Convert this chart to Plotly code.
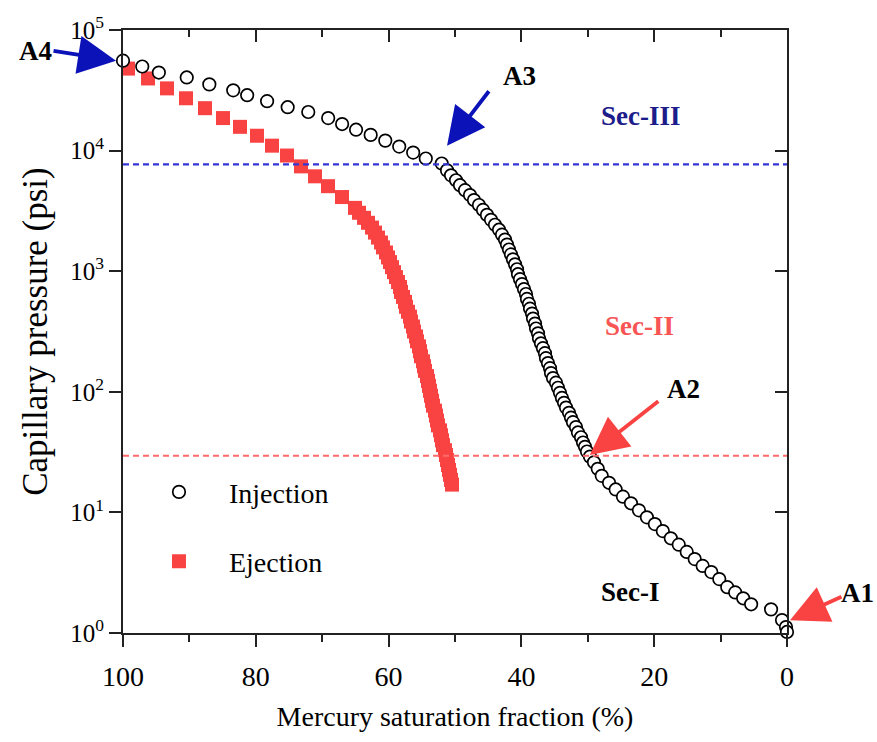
import plotly.graph_objects as go

# ---- Data ----
inj_sat = [100.0, 97.1, 94.6, 90.4, 87.0, 83.4, 81.3, 78.3, 75.2, 72.1, 69.1, 67.0, 64.9,
           62.7, 60.5, 58.4, 56.3, 54.4, 52.0,
           51.20, 50.60, 49.85, 49.25, 48.49, 47.74, 47.14, 46.39, 45.78, 45.18, 44.58,
           43.98, 43.37, 42.92, 42.47, 42.17, 41.87, 41.57, 41.27, 40.96, 40.66, 40.51,
           40.21, 39.91, 39.61, 39.31, 39.16, 38.86, 38.70, 38.40, 38.25, 37.95, 37.80,
           37.50, 37.35, 37.05, 36.75, 36.45, 36.30, 36.00, 35.69, 35.54, 35.24, 34.79,
           34.49, 34.19, 33.89, 33.58, 33.28, 32.83, 32.53, 32.23, 31.78, 31.48, 31.02,
           30.72, 30.42, 30.12, 29.67, 29.07, 28.5,
           27.9, 26.8, 25.8, 24.7, 23.5, 22.3, 21.1, 19.9, 18.7, 17.5, 16.3, 15.1, 13.9,
           12.7, 11.4, 10.2, 9.0, 7.8, 6.6, 5.4, 2.4, 0.75, 0.15, 0.0, 0.0]
inj_pc = [55700, 49800, 44400, 40400, 35400, 31600, 28800, 25700, 22900, 20900, 18600,
          16600, 14900, 13500, 12100, 10800, 9630, 8600, 7820,
          6855, 6237, 5675, 5164, 4699, 4276, 3890, 3540, 3221, 2931, 2667,
          2427, 2208, 2009, 1828, 1663, 1514, 1377, 1253, 1140, 1038, 944,
          859, 782, 711, 647, 589, 537, 489, 445, 405, 368, 335,
          305, 277, 252, 230, 209, 190, 173, 157, 143, 130, 119,
          108, 98, 89, 81, 74, 67, 61, 56, 51, 46, 42,
          38, 35, 32, 29, 26, 23.0,
          20.1, 17.6, 15.5, 13.5, 11.9, 10.4, 9.1, 8.0, 7.0, 6.1, 5.4, 4.7, 4.1,
          3.6, 3.2, 2.8, 2.4, 2.17, 1.94, 1.73, 1.57, 1.28, 1.12, 1.02, 0.93]

ej_sat = [99.25, 96.23, 93.37, 90.51, 87.65, 84.94, 82.38, 79.82, 77.56, 75.30, 73.19,
          71.08, 69.13, 67.02, 65.06, 64.46, 63.70, 63.10, 62.50, 62.05, 61.60, 61.14,
          60.84, 60.39, 60.09, 59.79, 59.49, 59.19, 58.89, 58.58, 58.28, 58.13, 57.83,
          57.53, 57.38, 57.08, 56.78, 56.63, 56.33, 56.17, 55.87, 55.72, 55.42, 55.27,
          55.12, 54.82, 54.67, 54.52, 54.22, 54.07, 53.92, 53.77, 53.61, 53.46, 53.31,
          53.01, 52.86, 52.71, 52.56, 52.26, 52.11, 51.96, 51.81, 51.51, 51.36, 51.20,
          51.05, 50.90, 50.75, 50.60, 50.45]
ej_pc = [47860, 39650, 32810, 27160, 22480, 18610, 15740, 13280, 10990, 9100, 7400,
         6120, 5070, 4120, 3350, 3050, 2770, 2520, 2300, 2090, 1900, 1730,
         1575, 1430, 1300, 1190, 1080, 982, 894, 813, 740, 673, 612,
         557, 507, 461, 420, 382, 348, 316, 288, 262, 238, 217,
         197, 179, 163, 149, 135, 123, 112, 102, 92.7, 84.3, 76.7,
         69.8, 63.5, 57.8, 52.6, 47.9, 43.6, 39.6, 36.1, 32.8, 29.9, 27.2,
         24.7, 22.5, 20.5, 18.6, 17.0]

sec3_threshold = 7680   # blue dashed line (psi)
sec2_threshold = 29.5   # red dashed line (psi)

x_ticks = [100, 80, 60, 40, 20, 0]
y_ticks = [1, 10, 100, 1000, 10000, 100000]
y_ticktext = ["10<sup>0</sup>", "10<sup>1</sup>", "10<sup>2</sup>",
              "10<sup>3</sup>", "10<sup>4</sup>", "10<sup>5</sup>"]

FONT = "Liberation Serif"
RED = "#f94343"
BLUE_ARROW = "#0a12b8"
AXC = "#222222"

fig = go.Figure()

fig.add_trace(go.Scatter(
    x=ej_sat, y=ej_pc, mode="markers", name="Ejection", legendrank=2,
    legendgroup="b",
    marker=dict(symbol="square", size=14, color=RED, line=dict(width=0)),
    cliponaxis=False))
fig.add_trace(go.Scatter(
    x=inj_sat, y=inj_pc, mode="markers", name="Injection", legendrank=1,
    legendgroup="a",
    marker=dict(symbol="circle", size=12.5, color="white",
                line=dict(width=1.7, color="black")),
    cliponaxis=False))

# threshold lines
fig.add_shape(type="line", xref="paper", x0=0, x1=1, yref="y",
              y0=sec3_threshold, y1=sec3_threshold,
              line=dict(color="#3535d6", width=2.2, dash="6px,4px"))
fig.add_shape(type="line", xref="paper", x0=0, x1=1, yref="y",
              y0=sec2_threshold, y1=sec2_threshold,
              line=dict(color="#ff6a6a", width=2.2, dash="6px,4px"))

# text labels
def label(text, x, y, color):
    fig.add_annotation(text=f"<b>{text}</b>", xref="paper", yref="paper", x=x, y=y,
                       showarrow=False, font=dict(family=FONT, size=27, color=color),
                       xanchor="center", yanchor="middle")

label("A4", -0.1325, 0.9656, "black")
label("A3", 0.5964, 0.9230, "black")
label("Sec-III", 0.7801, 0.8574, "#1c1c8a")
label("Sec-II", 0.7786, 0.5098, "#f85555")
label("A2", 0.8434, 0.4049, "black")
label("Sec-I", 0.7636, 0.0672, "black")
label("A1", 1.1069, 0.0656, "black")

# arrows (head in paper coords, tail pixel offset)
def arrow(x, y, ax, ay, color):
    fig.add_annotation(text="", x=x, y=y, xref="paper", yref="paper", ax=ax, ay=ay,
                       showarrow=True, arrowhead=2, arrowsize=2.0, arrowwidth=3.8,
                       arrowcolor=color, standoff=0)

arrow(-0.0105, 0.949, -64, -10, BLUE_ARROW)
arrow(0.488, 0.808, 43, -56, BLUE_ARROW)
arrow(0.703, 0.295, 70, -55, RED)
arrow(1.0045, 0.0213, 53, -24, RED)

axis_common = dict(showline=True, linewidth=2, linecolor=AXC, showgrid=False,
                   zeroline=False, ticklen=12, tickwidth=2, tickcolor=AXC)

fig.update_layout(
    width=877, height=742,
    margin=dict(l=123, r=90, t=23, b=109),
    paper_bgcolor="white", plot_bgcolor="white",
    font=dict(family=FONT, size=28, color="black"),
    xaxis=dict(range=[100, 0], tickvals=x_ticks, ticks="outside",
               minor=dict(dtick=10, ticks="outside", ticklen=7, tickwidth=2,
                          tickcolor=AXC),
               ticklabelstandoff=5,
               title=dict(text="Mercury saturation fraction (%)", standoff=16,
                          font=dict(size=28)),
               tickfont=dict(size=28), **axis_common),
    yaxis=dict(type="log", range=[0, 5], tickvals=y_ticks, ticktext=y_ticktext,
               ticks="outside",
               title=dict(text="Capillary pressure (psi)", standoff=12,
                          font=dict(size=35)),
               tickfont=dict(size=25), **axis_common),
    xaxis2=dict(overlaying="x", side="top", range=[100, 0], tickvals=x_ticks,
                ticks="inside", showticklabels=False,
                minor=dict(dtick=10, ticks="inside", ticklen=7, tickwidth=2,
                           tickcolor=AXC),
                **axis_common),
    yaxis2=dict(overlaying="y", side="right", type="log", range=[0, 5],
                tickvals=y_ticks, ticks="inside", showticklabels=False,
                **axis_common),
    legend=dict(x=0.009, y=0.275, xanchor="left", yanchor="top",
                bgcolor="rgba(0,0,0,0)", font=dict(size=28, family=FONT),
                itemwidth=90, tracegroupgap=30, traceorder="grouped"),
    showlegend=True,
)

# invisible trace to activate secondary axes
fig.add_trace(go.Scatter(x=[None], y=[None], xaxis="x2", yaxis="y2",
                         showlegend=False, hoverinfo="skip"))

fig.write_html("out.html")
